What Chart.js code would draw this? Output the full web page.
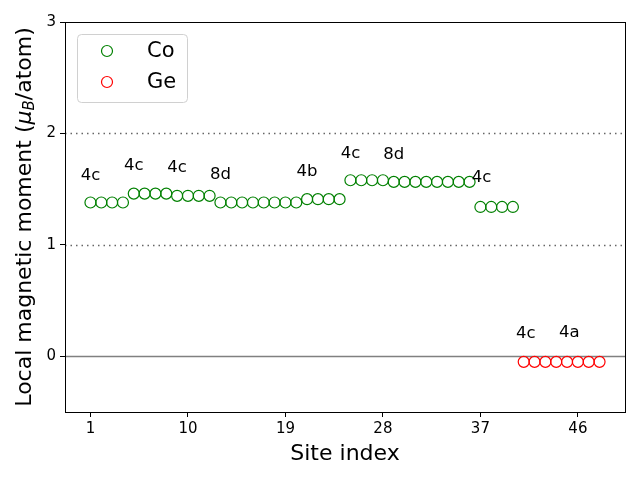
<!DOCTYPE html>
<html>
<head>
<meta charset="utf-8">
<script src="https://cdn.jsdelivr.net/npm/chart.js@4/dist/chart.umd.min.js"></script>
<style>
  body { margin: 0; background: #fff; }
  #c { display: block; }
</style>
</head>
<body>
<canvas id="c" width="640" height="480"></canvas>
<script>
// site index and local moment
let coSites = [];
for (let i = 1; i <= 40; i++) coSites.push(i);
let coMoments = [1.38, 1.38, 1.38, 1.38, 1.46, 1.46, 1.46, 1.46,
                 1.44, 1.44, 1.44, 1.44, 1.38, 1.38, 1.38, 1.38,
                 1.38, 1.38, 1.38, 1.38, 1.41, 1.41, 1.41, 1.41,
                 1.58, 1.58, 1.58, 1.58, 1.565, 1.565, 1.565, 1.565,
                 1.565, 1.565, 1.565, 1.565, 1.34, 1.34, 1.34, 1.34];
let geSites = [41, 42, 43, 44, 45, 46, 47, 48];
let geMoments = [-0.05, -0.05, -0.05, -0.05, -0.05, -0.05, -0.05, -0.05];

// wyckoff labels (x, y in data units)
let wyckText = ["4c", "4c", "4c", "8d", "4b", "4c", "8d", "4c", "4c", "4a"];
let wyckX = [1, 5, 9, 13, 21, 25, 29, 37.1, 41.2, 45.2];
let wyckY = [1.62, 1.71, 1.69, 1.63, 1.66, 1.82, 1.81, 1.60, 0.2, 0.21];

let xTicks = [1, 10, 19, 28, 37, 46];
let yTicks = [0, 1, 2, 3];
let dottedLines = [1, 2];

let font = "'DejaVu Sans', sans-serif";

function pts(xs, ys) {
    return xs.map((x, i) => ({ x: x, y: ys[i] }));
}

let extras = {
    id: "extras",
    beforeDatasetsDraw(chart) {
        let ctx = chart.ctx;
        let a = chart.chartArea;
        let y = chart.scales.y;
        ctx.save();
        ctx.strokeStyle = "#666";
        ctx.lineWidth = 1.5;
        ctx.setLineDash([1.5, 4]);
        dottedLines.forEach(v => {
            let py = Math.round(y.getPixelForValue(v)) + 0.5;
            ctx.beginPath();
            ctx.moveTo(a.left, py);
            ctx.lineTo(a.right, py);
            ctx.stroke();
        });
        ctx.setLineDash([]);
        ctx.strokeStyle = "#808080";
        let p0 = Math.round(y.getPixelForValue(0)) + 0.5;
        ctx.beginPath();
        ctx.moveTo(a.left, p0);
        ctx.lineTo(a.right, p0);
        ctx.stroke();
        ctx.restore();
    },
    afterDraw(chart) {
        let ctx = chart.ctx;
        let a = chart.chartArea;
        let xs = chart.scales.x, ys = chart.scales.y;
        ctx.save();
        // frame
        ctx.strokeStyle = "#000";
        ctx.lineWidth = 1;
        ctx.strokeRect(a.left + 0.5, a.top + 0.5, a.right - a.left, a.bottom - a.top);

        // site labels
        ctx.fillStyle = "#000";
        ctx.font = "16.5px " + font;
        ctx.textAlign = "center";
        ctx.textBaseline = "middle";
        wyckText.forEach((t, i) => {
            ctx.fillText(t, xs.getPixelForValue(wyckX[i]), ys.getPixelForValue(wyckY[i]));
        });

        // legend
        let lx = 77, ly = 34, lw = 110, lh = 68;
        ctx.fillStyle = "rgba(255,255,255,0.8)";
        ctx.strokeStyle = "#d0d0d0";
        ctx.beginPath();
        ctx.roundRect(lx + 0.5, ly + 0.5, lw, lh, 4);
        ctx.fill();
        ctx.stroke();
        chart.data.datasets.forEach((ds, i) => {
            let cy = 51 + i * 31;
            ctx.strokeStyle = ds.borderColor;
            ctx.lineWidth = 1.2;
            ctx.beginPath();
            ctx.arc(107, cy, 5.5, 0, Math.PI * 2);
            ctx.stroke();
            ctx.fillStyle = "#000";
            ctx.font = "21px " + font;
            ctx.textAlign = "left";
            ctx.fillText(ds.label, 147, cy + 1);
        });

        // x title
        ctx.font = "22px " + font;
        ctx.textAlign = "center";
        ctx.fillText("Site index", (a.left + a.right) / 2, 454);

        // y title with mu_B
        ctx.translate(25, (a.top + a.bottom) / 2);
        ctx.rotate(-Math.PI / 2);
        let p1 = "Local magnetic moment (";
        let p2 = "μ";
        let p3 = "B";
        let p4 = "/atom)";
        let f = "22px " + font, fi = "italic 22px " + font, fs = "italic 15px " + font;
        ctx.font = f; let w1 = ctx.measureText(p1).width;
        ctx.font = fi; let w2 = ctx.measureText(p2).width;
        ctx.font = fs; let w3 = ctx.measureText(p3).width;
        ctx.font = f; let w4 = ctx.measureText(p4).width;
        let x0 = -(w1 + w2 + w3 + w4) / 2;
        ctx.textAlign = "left";
        ctx.font = f; ctx.fillText(p1, x0, 0);
        ctx.font = fi; ctx.fillText(p2, x0 + w1, 0);
        ctx.font = fs; ctx.fillText(p3, x0 + w1 + w2, 5);
        ctx.font = f; ctx.fillText(p4, x0 + w1 + w2 + w3, 0);
        ctx.restore();
    }
};

let chart = new Chart(document.getElementById("c"), {
    type: "scatter",
    data: {
        datasets: [{
            label: "Co",
            data: pts(coSites, coMoments),
            borderColor: "#008000",
            backgroundColor: "rgba(0,0,0,0)",
            borderWidth: 1.2,
            pointRadius: 5.5,
            pointHoverRadius: 5.5
        }, {
            label: "Ge",
            data: pts(geSites, geMoments),
            borderColor: "#ff0000",
            backgroundColor: "rgba(0,0,0,0)",
            borderWidth: 1.2,
            pointRadius: 5.5,
            pointHoverRadius: 5.5
        }]
    },
    options: {
        responsive: false,
        animation: false,
        events: [],
        layout: { padding: { left: 0, top: 22, right: 15, bottom: 0 } },
        plugins: { legend: { display: false }, tooltip: { enabled: false } },
        scales: {
            x: {
                type: "linear",
                min: -1.35,
                max: 50.35,
                afterBuildTicks: s => { s.ticks = xTicks.map(v => ({ value: v })); },
                afterFit: s => { s.height = 68; },
                grid: { drawOnChartArea: false, color: "#000", tickLength: 5 },
                border: { color: "#000" },
                ticks: { color: "#000", font: { family: font, size: 15 }, padding: 3, maxRotation: 0 }
            },
            y: {
                min: -0.5,
                max: 3,
                afterBuildTicks: s => { s.ticks = yTicks.map(v => ({ value: v })); },
                afterFit: s => { s.width = 65; },
                grid: { drawOnChartArea: false, color: "#000", tickLength: 5 },
                border: { color: "#000" },
                ticks: { color: "#000", font: { family: font, size: 15 }, padding: 4 }
            }
        }
    },
    plugins: [extras]
});
</script>
</body>
</html>
